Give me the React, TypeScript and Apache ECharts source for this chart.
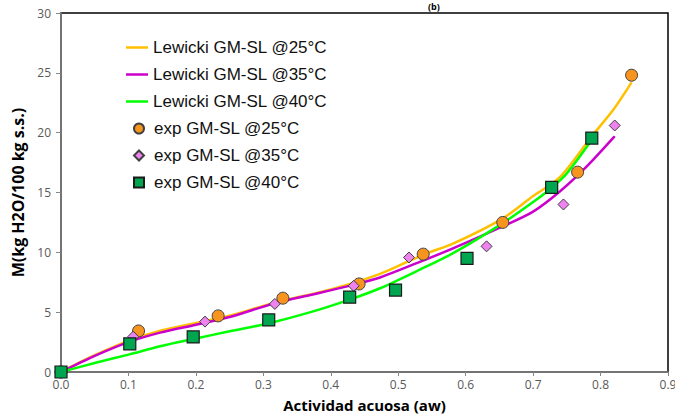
import React, { useEffect, useRef } from "react";
import * as echarts from "echarts";

// Lewicki model curves
const lew25: [number, number][] = [
  [0, 0], [0.05, 1.4], [0.1, 2.6], [0.147, 3.45], [0.2, 4.1], [0.25, 4.7], [0.317, 5.8],
  [0.4, 6.9], [0.473, 8.2], [0.537, 9.8], [0.582, 10.75], [0.654, 12.8], [0.7, 14.7],
  [0.74, 16.3], [0.787, 19.7], [0.82, 22.0], [0.846, 24.2],
];
const lew35: [number, number][] = [
  [0, 0], [0.05, 1.35], [0.1, 2.5], [0.147, 3.29], [0.2, 3.95], [0.25, 4.6], [0.317, 5.75],
  [0.375, 6.5], [0.433, 7.28], [0.473, 7.9], [0.532, 9.2], [0.582, 10.35], [0.654, 12.15],
  [0.7, 13.4], [0.74, 15.1], [0.78, 17.2], [0.821, 19.7],
];
const lew40: [number, number][] = [
  [0, 0], [0.05, 0.75], [0.1, 1.45], [0.147, 2.15], [0.2, 2.8], [0.25, 3.4], [0.31, 4.1],
  [0.37, 5.0], [0.428, 6.05], [0.473, 7.0], [0.532, 8.55], [0.582, 9.95], [0.654, 12.4],
  [0.7, 14.2], [0.7275, 15.4], [0.75, 16.6], [0.787, 19.4],
];

// Experimental points
const exp25: [number, number][] = [
  [0, 0], [0.115, 3.43], [0.233, 4.69], [0.329, 6.17], [0.442, 7.36], [0.537, 9.85],
  [0.655, 12.5], [0.766, 16.7], [0.846, 24.8],
];
const exp35: [number, number][] = [
  [0, 0], [0.107, 2.95], [0.2135, 4.21], [0.317, 5.69], [0.434, 7.2], [0.516, 9.57],
  [0.631, 10.5], [0.745, 14.0], [0.821, 20.6],
];
const exp40: [number, number][] = [
  [0, 0], [0.102, 2.35], [0.196, 2.93], [0.308, 4.35], [0.428, 6.25], [0.496, 6.85],
  [0.602, 9.49], [0.7275, 15.42], [0.787, 19.55],
];

const lineNames = ["Lewicki GM-SL @25°C", "Lewicki GM-SL @35°C", "Lewicki GM-SL @40°C"];
const expNames = ["exp GM-SL @25°C", "exp GM-SL @35°C", "exp GM-SL @40°C"];

export default function App() {
  const ref = useRef<HTMLDivElement>(null);
  useEffect(() => {
    if (!ref.current) return;
    const chart = echarts.init(ref.current, null, { renderer: "svg" });
    const lbl = { color: "#595959", fontSize: 12, fontFamily: "Open Sans" };
    const legText = { fontSize: 17, color: "#111", fontFamily: "Liberation Sans" };
    chart.setOption({
      animation: false,
      backgroundColor: "#fff",
      grid: {
        left: 61, right: 7, top: 13, bottom: 45,
        containLabel: false, outerBoundsMode: "none",
        show: true, borderColor: "#000", borderWidth: 1.5,
      },
      graphic: [
        {
          type: "text", left: 428, top: 2,
          style: { text: "(b)", fontSize: 9, fontWeight: "bold", fill: "#000", fontFamily: "Open Sans" },
        },
      ],
      legend: [
        {
          orient: "vertical",
          left: 126, top: 39, padding: 0,
          icon: "rect",
          itemWidth: 22, itemHeight: 2.5, itemGap: 10,
          textStyle: legText,
          data: lineNames,
        },
        {
          orient: "vertical",
          left: 133, top: 39 + 3 * 27, padding: 0,
          itemWidth: 10, itemHeight: 10, itemGap: 10,
          textStyle: { ...legText, padding: [0, 0, 0, 5] },
          data: expNames,
        },
      ],
      xAxis: {
        type: "value", min: 0, max: 0.9, interval: 0.1,
        name: "Actividad acuosa (aw)", nameLocation: "middle", nameGap: 25,
        nameTextStyle: { fontSize: 15, fontWeight: "bold", color: "#000", fontFamily: "Open Sans" },
        axisLine: { show: true, lineStyle: { color: "#868686", width: 1.5 } },
        axisTick: { show: true, length: 4, lineStyle: { color: "#868686" } },
        axisLabel: { ...lbl, margin: 6, formatter: (v: number) => v.toFixed(1) },
        splitLine: { show: false },
      },
      yAxis: {
        type: "value", min: 0, max: 30, interval: 5,
        name: "M(kg H2O/100 kg s.s.)", nameLocation: "middle", nameGap: 32,
        nameTextStyle: { fontSize: 16, fontWeight: "bold", color: "#000", fontFamily: "Open Sans" },
        axisLine: { show: true, lineStyle: { color: "#868686", width: 1.5 } },
        axisTick: { show: true, length: 5, lineStyle: { color: "#868686" } },
        axisLabel: { ...lbl, margin: 10 },
        splitLine: { show: false },
      },
      series: [
        {
          name: lineNames[0], type: "line", data: lew25, smooth: 0.3, symbol: "none",
          lineStyle: { color: "#FFC000", width: 2.5 }, itemStyle: { color: "#FFC000" }, z: 2,
        },
        {
          name: lineNames[1], type: "line", data: lew35, smooth: 0.3, symbol: "none",
          lineStyle: { color: "#CC00CC", width: 2.5 }, itemStyle: { color: "#CC00CC" }, z: 2,
        },
        {
          name: lineNames[2], type: "line", data: lew40, smooth: 0.3, symbol: "none",
          lineStyle: { color: "#00FF00", width: 2.5 }, itemStyle: { color: "#00FF00" }, z: 2,
        },
        {
          name: expNames[0], type: "scatter", data: exp25, symbol: "circle", symbolSize: 12,
          itemStyle: { color: "#F7941D", borderColor: "#404040", borderWidth: 1, opacity: 1 }, z: 3,
        },
        {
          name: expNames[1], type: "scatter", data: exp35, symbol: "diamond", symbolSize: 11,
          itemStyle: { color: "#EE82EE", borderColor: "#404040", borderWidth: 1, opacity: 1 }, z: 3,
        },
        {
          name: expNames[2], type: "scatter", data: exp40, symbol: "rect", symbolSize: 12,
          itemStyle: { color: "#00A550", borderColor: "#1a1a1a", borderWidth: 1.2, opacity: 1 }, z: 4,
        },
      ],
    });
    return () => chart.dispose();
  }, []);
  return (
    <div
      ref={ref}
      style={{ position: "absolute", left: 0, top: 0, width: 675, height: 417 }}
    />
  );
}
